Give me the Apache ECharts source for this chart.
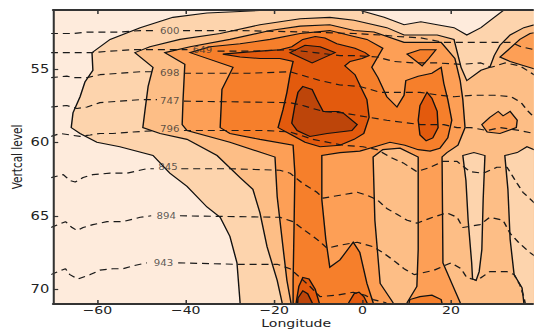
<!DOCTYPE html>
<html>
<head>
<meta charset="utf-8">
<script src="https://cdn.jsdelivr.net/npm/echarts@6/dist/echarts.min.js"></script>
<style>
  html, body { margin: 0; padding: 0; background: #ffffff; overflow: hidden; }
  #main { height: 331px; transform-origin: 0 0; }
</style>
</head>
<body>
<div id="main"></div>
<script>
// Axis ticks
const lonTicks = [-60, -40, -20, 0, 20];
const levelTicks = [55, 60, 65, 70];

// Filled contour bands, light to dark
const bandColors = ['#feebdc', '#fdd4ad', '#fdbe86', '#fd9f56', '#f67f2b', '#e35a0d', '#bd450a'];

// Contour outlines, [longitude, vertical level]
const band1 = [[-14.1,50.9],[-20.9,51.0],[-27.7,51.1],[-35.2,51.2],[-42.9,51.5],[-50.3,52.2],[-57.1,53.0],[-61.2,53.9],[-61.0,55.1],[-62.8,55.9],[-63.9,56.9],[-65.5,58.0],[-65.9,59.0],[-63.9,59.4],[-60.1,60.0],[-54.9,60.3],[-47.4,60.9],[-43.6,62.1],[-39.7,63.0],[-35.2,64.4],[-32.2,65.1],[-30.0,66.4],[-28.4,68.2],[-27.7,70.9],[-27.7,71.5],[41.5,71.5],[41.5,50.5],[32.0,50.5],[32.0,51.0],[29.8,51.5],[26.8,52.2],[23.6,52.7],[20.7,52.2],[16.9,52.0],[13.2,51.8],[9.4,52.0],[4.9,51.5],[0.3,51.1],[-1.7,50.9]];
const band2 = [[-51.5,53.9],[-48.1,53.5],[-41.3,53.0],[-32.2,52.6],[-23.2,52.0],[-14.1,51.6],[-7.4,51.5],[-1.9,51.7],[5.5,52.2],[9.4,52.7],[16.9,52.7],[20.7,53.0],[22.3,54.9],[23.6,55.8],[26.8,55.1],[28.8,54.9],[29.8,54.1],[31.1,53.4],[33.4,52.7],[36.5,52.2],[41.5,51.8],[41.5,71.5],[-18.2,71.5],[-18.2,70.9],[-19.3,69.4],[-21.6,67.1],[-23.2,64.8],[-24.8,63.2],[-27.7,62.4],[-32.9,60.9],[-39.7,59.8],[-45.8,59.4],[-49.7,59.0],[-49.2,57.8],[-48.5,56.2],[-47.4,54.9]];
const band3 = [[-44.7,53.9],[-39.0,53.5],[-30.0,53.0],[-20.9,52.4],[-14.1,52.1],[-7.4,52.0],[-1.9,52.4],[2.6,52.5],[9.4,53.2],[17.8,53.2],[20.9,54.3],[22.1,55.8],[22.7,57.1],[23.2,59.0],[21.6,60.2],[19.1,60.7],[18.0,61.0],[18.2,68.2],[20.5,69.8],[22.1,70.9],[22.1,71.5],[10.1,71.5],[10.1,70.9],[12.3,69.8],[12.6,67.3],[12.6,61.0],[8.5,60.4],[4.6,60.5],[2.4,61.0],[2.8,65.3],[4.0,69.6],[6.9,70.9],[6.9,71.5],[-16.2,71.5],[-16.2,70.9],[-17.1,69.4],[-18.0,67.1],[-19.3,63.7],[-19.8,61.0],[-30.0,60.0],[-39.7,59.2],[-40.8,58.8],[-40.6,57.1],[-40.2,54.7]];
const band3Cap = [[31.1,54.2],[33.4,53.6],[35.6,53.0],[37.9,52.6],[41.5,52.4],[41.5,55.2],[38.8,55.0],[35.6,54.7],[33.4,54.5]];
const band3Patch = [[27.0,58.8],[28.8,58.3],[30.7,57.9],[31.8,58.2],[33.4,57.9],[35.0,58.5],[34.8,59.0],[31.1,59.4],[28.2,59.3]];
const band1Finger = [[22.7,60.9],[25.2,60.7],[27.7,60.9],[27.3,63.9],[27.0,67.3],[26.4,68.8],[25.7,69.4],[24.9,69.3],[24.7,68.2],[23.9,65.3],[23.4,62.6]];
const band1East = [[32.2,60.9],[35.0,60.7],[37.2,60.3],[38.8,60.5],[41.5,60.5],[41.5,71.5],[36.5,71.5],[36.5,70.9],[36.1,69.9],[34.3,69.0],[33.4,66.6],[32.9,63.2]];
const band4 = [[-39.0,53.9],[-34.5,53.5],[-27.7,53.3],[-20.9,53.0],[-14.1,52.6],[-7.4,52.4],[-1.9,52.8],[1.0,53.0],[4.6,53.6],[2.1,54.9],[3.5,55.6],[5.5,56.9],[7.8,57.6],[9.4,56.8],[9.8,55.8],[12.6,55.5],[15.7,55.3],[17.8,54.9],[18.4,56.0],[19.3,57.1],[20.2,58.5],[19.3,59.7],[17.5,60.4],[15.3,60.6],[12.6,60.5],[9.6,60.2],[6.2,60.0],[2.8,60.3],[-0.6,60.6],[-5.1,60.7],[-9.2,60.9],[-9.2,63.9],[-8.3,66.6],[-7.4,68.5],[-5.1,68.0],[-2.1,66.8],[-0.6,67.5],[1.0,69.6],[2.4,70.9],[2.4,71.5],[-15.7,71.5],[-15.7,69.4],[-15.5,66.0],[-15.3,62.1],[-15.7,60.2],[-23.2,59.8],[-30.0,59.4],[-32.2,59.0],[-31.8,56.4],[-29.3,54.9]];
const band4Island = [[10.1,54.0],[13.0,53.7],[16.6,53.7],[15.0,54.3],[13.5,54.8]];
const band4Foot = [[10.1,71.5],[10.7,70.7],[13.0,70.5],[15.7,70.4],[17.8,70.7],[18.4,71.5]];
const band5 = [[-31.6,54.0],[-27.7,53.9],[-23.2,53.8],[-18.7,53.7],[-16.0,53.5],[-13.5,53.0],[-10.7,52.8],[-8.5,52.9],[-5.8,53.3],[-1.7,53.6],[0.6,53.9],[1.5,54.1],[-0.1,54.3],[-2.8,54.5],[-4.0,54.8],[-1.7,55.4],[-0.3,56.3],[1.0,57.1],[1.5,58.3],[0.3,59.4],[-1.9,59.8],[-5.1,60.2],[-9.6,60.3],[-13.0,60.0],[-16.0,59.5],[-19.1,59.0],[-18.0,57.8],[-17.1,56.6],[-16.4,55.4],[-15.7,54.5],[-18.7,54.3],[-23.2,54.3],[-27.7,54.2]];
const band5Drop = [[14.6,56.6],[15.7,57.0],[16.9,57.9],[17.1,59.0],[15.9,59.7],[14.4,59.9],[13.0,59.5],[12.6,58.5],[13.0,57.5]];
const band5FootA = [[-15.0,71.5],[-15.0,70.9],[-14.4,69.8],[-13.5,69.2],[-12.1,69.3],[-10.7,70.0],[-9.8,70.9],[-9.8,71.5]];
const band5FootB = [[-3.1,71.5],[-3.1,70.9],[-1.9,70.3],[-0.8,70.2],[0.3,70.5],[1.0,70.9],[1.0,71.5]];
const band6Top = [[-16.4,53.9],[-13.0,53.4],[-9.6,53.5],[-6.2,53.9],[-11.4,54.6]];
const band6Core = [[-13.5,56.2],[-11.4,56.4],[-10.3,57.1],[-8.9,57.9],[-5.5,57.9],[-4.4,58.0],[-1.2,58.8],[-2.4,59.2],[-8.0,59.4],[-11.9,59.6],[-14.8,59.2],[-16.0,58.7],[-15.3,57.5],[-14.6,56.6]];
const band6Foot = [[-14.8,71.5],[-14.6,70.6],[-13.5,70.1],[-12.4,70.3],[-11.4,70.9],[-11.4,71.5]];

// Isobars (dashed), split around their inline labels
const isobarValues = [600, 649, 698, 747, 796, 845, 894, 943];
const iso600W = [[-70.5,52.6],[-67.7,52.6],[-65.5,52.6],[-62.3,52.5],[-59.4,52.5],[-54.9,52.5],[-50.3,52.4],[-46.6,52.4]];
const iso600E = [[-40.6,52.4],[-27.7,52.4],[-12.6,52.5],[-1.9,52.6],[4.2,52.7],[7.8,52.8],[13.2,52.9],[18.4,53.2],[23.0,53.2],[29.8,53.2],[33.6,53.2],[35.9,53.5],[38.8,53.7],[41.5,53.9]];
const iso649W = [[-70.5,53.9],[-65.5,53.9],[-61.2,53.9],[-57.1,53.8],[-51.9,53.7],[-45.8,53.7],[-39.6,53.7]];
const iso649E = [[-32.8,53.8],[-25.5,53.8],[-16.4,53.7],[-5.1,54.1],[-1.9,54.1],[3.3,54.2],[7.1,54.5],[11.7,54.6],[16.9,54.6],[22.3,54.7],[26.8,54.6],[29.1,54.9],[32.2,54.6],[35.6,54.8],[38.8,55.4],[41.5,55.8]];
const iso698W = [[-70.5,55.6],[-66.9,55.5],[-65.5,55.6],[-62.3,55.6],[-59.4,55.4],[-54.9,55.3],[-50.3,55.2],[-46.5,55.2]];
const iso698E = [[-40.4,55.3],[-25.5,55.3],[-16.4,55.2],[-14.1,55.4],[-9.6,55.8],[-5.1,56.1],[-0.6,56.2],[4.0,56.6],[8.5,56.6],[13.0,56.6],[17.5,56.8],[20.7,56.9],[25.2,56.8],[29.8,56.8],[33.6,56.9],[35.9,57.3],[37.2,57.8],[38.8,58.3],[41.5,58.8]];
const iso747W = [[-70.5,57.6],[-66.9,57.5],[-64.6,57.7],[-62.3,57.6],[-59.4,57.3],[-54.9,57.2],[-50.3,57.1],[-46.5,57.1]];
const iso747E = [[-40.4,57.2],[-16.4,57.3],[-13.5,57.5],[-8.9,57.9],[-4.4,58.0],[-0.6,58.2],[5.5,58.5],[13.2,58.8],[18.4,58.8],[21.4,59.0],[24.5,59.0],[28.2,59.2],[31.1,59.0],[35.6,59.2],[38.8,59.4],[41.5,59.6]];
const iso796W = [[-70.5,59.6],[-68.4,59.4],[-66.2,59.5],[-63.9,59.6],[-61.6,59.5],[-59.4,59.4],[-56.5,59.4],[-51.9,59.3],[-46.7,59.2]];
const iso796E = [[-40.4,59.2],[-21.6,59.2],[-16.4,59.3],[-11.2,59.8],[-4.4,60.2],[0.1,60.3],[3.3,60.5],[6.2,61.0],[9.2,61.4],[12.3,62.0],[15.3,61.7],[18.2,61.3],[21.4,61.3],[24.3,62.0],[27.3,62.1],[30.4,61.7],[32.7,61.7],[35.0,62.8],[36.3,63.4],[38.8,64.1],[41.5,64.6]];
const iso845W = [[-70.5,62.4],[-67.7,62.2],[-66.2,62.6],[-65.0,62.7],[-63.2,62.4],[-61.0,62.2],[-57.1,62.1],[-53.3,62.1],[-48.8,61.8],[-47.2,61.8]];
const iso845E = [[-41.0,61.8],[-30.0,61.8],[-18.7,61.9],[-16.4,62.1],[-13.5,62.8],[-10.3,63.4],[-8.9,63.8],[-5.1,63.6],[-1.2,63.4],[1.0,63.6],[3.3,63.9],[5.5,64.5],[7.8,64.9],[10.1,65.3],[12.3,65.5],[15.9,65.1],[19.1,64.8],[21.4,65.1],[22.7,65.8],[26.6,65.6],[28.8,65.1],[31.8,65.3],[33.4,66.2],[35.6,66.9],[37.9,67.5],[41.5,68.3]];
const iso894W = [[-70.5,65.8],[-67.2,65.4],[-65.7,65.8],[-64.6,66.0],[-63.2,65.8],[-61.0,65.6],[-57.8,65.4],[-54.2,65.4],[-50.3,65.1],[-47.8,65.0]];
const iso894E = [[-41.3,65.0],[-18.7,65.1],[-15.7,65.4],[-13.5,65.9],[-10.3,66.6],[-8.0,67.2],[-5.1,67.0],[-1.2,66.8],[2.4,67.1],[4.6,67.5],[6.9,68.0],[9.4,68.6],[11.7,69.0],[13.2,68.9],[16.2,68.7],[20.0,68.2],[22.3,68.6],[23.6,69.2],[25.9,69.4],[28.8,68.8],[32.7,68.8],[34.3,69.0],[35.6,69.7],[36.5,70.5],[37.2,71.5]];
const iso943W = [[-70.5,69.0],[-67.2,68.6],[-66.2,69.0],[-64.4,69.3],[-61.6,69.0],[-59.4,68.7],[-56.5,68.6],[-54.2,68.6],[-51.9,68.4],[-48.8,68.2]];
const iso943E = [[-41.7,68.2],[-28.4,68.3],[-19.3,68.3],[-16.4,68.6],[-14.1,69.2],[-11.9,69.8],[-9.6,70.5],[-5.8,70.4],[-2.1,70.2],[0.6,70.4],[2.4,70.7],[5.1,70.9],[8.5,71.5]];
// Where each isobar label sits
const isobarLabelAt = [[-43.6,52.4],[-36.2,53.7],[-43.6,55.3],[-43.6,57.2],[-43.6,59.1],[-44.0,61.7],[-44.4,65.0],[-45.0,68.2]];

// Draw order: each band is painted over the ones before it
const regions = [
  { level: 1, pts: band1 },
  { level: 2, pts: band2 },
  { level: 3, pts: band3 },
  { level: 3, pts: band3Cap },
  { level: 3, pts: band3Patch },
  { level: 1, pts: band1Finger },
  { level: 1, pts: band1East },
  { level: 4, pts: band4 },
  { level: 4, pts: band4Island },
  { level: 4, pts: band4Foot },
  { level: 5, pts: band5 },
  { level: 5, pts: band5Drop },
  { level: 5, pts: band5FootA },
  { level: 5, pts: band5FootB },
  { level: 6, pts: band6Top },
  { level: 6, pts: band6Core },
  { level: 6, pts: band6Foot }
];
const isobarLines = [
  [iso600W, iso600E], [iso649W, iso649E], [iso698W, iso698E], [iso747W, iso747E],
  [iso796W, iso796E], [iso845W, iso845E], [iso894W, iso894E], [iso943W, iso943E]
];

// The figure is drawn narrow and stretched sideways
const STRETCH = 1.28;
const W = 534 / STRETCH;
const dom = document.getElementById('main');
dom.style.width = W + 'px';
dom.style.transform = 'scaleX(' + STRETCH + ')';

const FONT = 'DejaVu Sans';
const INK = '#222222';
const minus = v => (v < 0 ? '\u2212' + (-v) : String(v));

const chart = echarts.init(dom, null, { renderer: 'svg', width: W, height: 331 });

const dashedSeries = [];
isobarLines.forEach(pair => {
  pair.forEach(seg => {
    dashedSeries.push({
      type: 'line', data: seg, symbol: 'none', silent: true, z: 3,
      lineStyle: { color: '#1a1a1a', width: 1.15, type: [5.5, 3.8] },
      animation: false
    });
  });
});

chart.setOption({
  animation: false,
  backgroundColor: '#ffffff',
  grid: {
    left: 53.1 / STRETCH, top: 10, width: 486.2 / STRETCH, height: 294,
    outerBoundsMode: 'none', containLabel: false,
    show: true, backgroundColor: bandColors[0], borderWidth: 0
  },
  xAxis: [
    {
      type: 'value', min: -70, max: 40, position: 'bottom', z: 10,
      axisLine: { show: true, onZero: false, lineStyle: { color: '#333', width: 2 } },
      axisTick: { show: true, inside: true, length: 4, customValues: lonTicks, lineStyle: { color: '#333', width: 1.2 } },
      axisLabel: { customValues: lonTicks, formatter: minus, fontSize: 11, color: INK, fontFamily: FONT, margin: 1 },
      splitLine: { show: false },
      name: 'Longitude', nameLocation: 'middle', nameGap: 14, nameMoveOverlap: false,
      nameTextStyle: { fontSize: 11, color: INK, fontFamily: FONT }
    },
    {
      type: 'value', min: -70, max: 40, position: 'top', z: 10,
      axisLine: { show: true, onZero: false, lineStyle: { color: '#333', width: 2 } },
      axisTick: { show: true, inside: true, length: 4, customValues: lonTicks, lineStyle: { color: '#333', width: 1.2 } },
      axisLabel: { show: false },
      splitLine: { show: false }
    }
  ],
  yAxis: {
    type: 'value', min: 51, max: 71, inverse: true, z: 10,
    axisLine: { show: true, onZero: false, lineStyle: { color: '#333', width: 1.6 } },
    axisTick: { show: true, inside: true, length: 4, customValues: levelTicks, lineStyle: { color: '#333', width: 1.2 } },
    axisLabel: { customValues: levelTicks, fontSize: 11.5, color: INK, fontFamily: FONT, margin: 3 },
    splitLine: { show: false },
    name: 'Vertcal level', nameLocation: 'middle', nameGap: 22, nameMoveOverlap: false,
    nameTextStyle: { fontSize: 10.5, color: INK, fontFamily: FONT }
  },
  series: [
    {
      type: 'custom', coordinateSystem: 'cartesian2d', clip: true, silent: true, z: 2,
      data: regions.map((r, i) => [r.pts[0][0], r.pts[0][1], i]),
      renderItem: (params, api) => {
        const r = regions[params.dataIndex];
        return {
          type: 'polygon', z2: params.dataIndex,
          shape: { points: r.pts.map(p => api.coord(p)) },
          style: { fill: bandColors[r.level], stroke: '#111', lineWidth: 1.1 }
        };
      }
    },
    ...dashedSeries,
    {
      type: 'scatter', silent: true, z: 4, symbolSize: 0,
      data: isobarValues.map((v, i) => [isobarLabelAt[i][0], isobarLabelAt[i][1], v]),
      label: {
        show: true, position: 'inside', formatter: p => String(p.value[2]),
        fontSize: 8, color: '#333', fontFamily: FONT
      }
    }
  ]
});
</script>
</body>
</html>
